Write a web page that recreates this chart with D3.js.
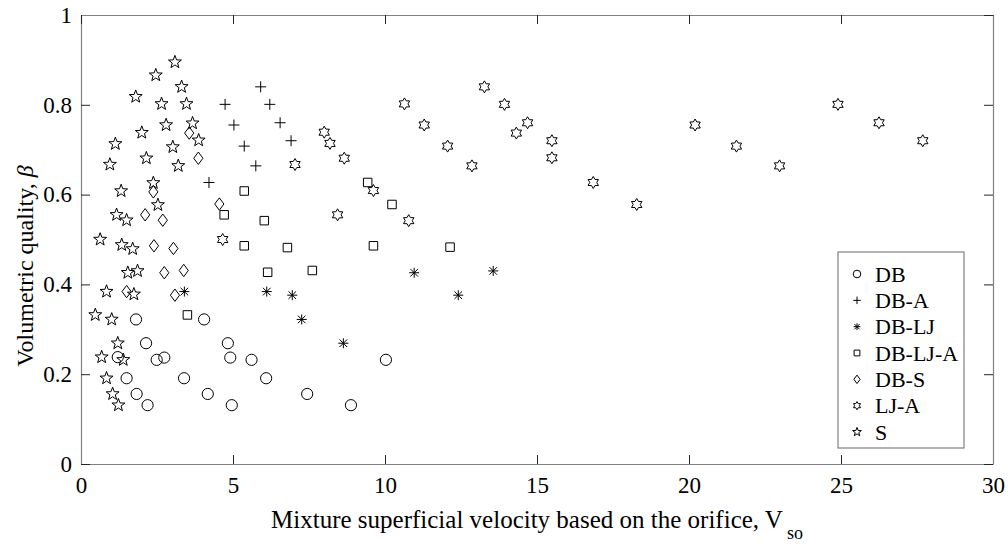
<!DOCTYPE html>
<html>
<head>
<meta charset="utf-8">
<script src="https://cdn.jsdelivr.net/npm/d3@7"></script>
</head>
<body style="margin:0">
<svg id="chart"></svg>
<script>
// values
const dbX = [1.81, 4.05, 2.14, 4.83, 1.21, 2.49, 2.74, 4.91, 5.61, 10.03, 1.50, 3.39, 6.09, 1.83, 4.17, 7.44, 2.19, 4.96, 8.88]
const dbY = [0.322, 0.322, 0.269, 0.269, 0.238, 0.232, 0.237, 0.237, 0.232, 0.232, 0.191, 0.191, 0.191, 0.156, 0.156, 0.156, 0.131, 0.131, 0.131]

const dbaX = [5.91, 4.74, 6.21, 5.03, 6.55, 5.37, 6.91, 5.75, 4.21]
const dbaY = [0.840, 0.801, 0.801, 0.755, 0.760, 0.708, 0.720, 0.664, 0.627]

const dbljX = [3.40, 6.11, 6.95, 7.26, 8.63, 10.96, 13.56, 12.41]
const dbljY = [0.384, 0.384, 0.376, 0.322, 0.269, 0.426, 0.430, 0.376]

const dbljaX = [5.37, 4.71, 6.03, 9.43, 10.23, 12.14, 5.37, 6.79, 9.62, 6.14, 7.61, 3.50]
const dbljaY = [0.608, 0.555, 0.542, 0.627, 0.578, 0.483, 0.486, 0.482, 0.486, 0.427, 0.431, 0.332]

const dbsX = [3.56, 3.86, 2.38, 4.55, 2.11, 2.69, 2.40, 3.04, 2.74, 3.38, 1.50, 3.09]
const dbsY = [0.737, 0.681, 0.606, 0.579, 0.555, 0.543, 0.486, 0.480, 0.426, 0.431, 0.384, 0.376]

const ljaX = [4.66, 7.04, 8.00, 8.19, 8.66, 8.44, 9.62, 10.64, 11.29, 12.06, 12.86, 13.27, 13.93, 14.32, 14.69, 15.49, 15.49, 16.85, 18.28, 10.78, 20.20, 21.56, 22.98, 24.90, 26.25, 27.69]
const ljaY = [0.500, 0.667, 0.739, 0.714, 0.681, 0.555, 0.609, 0.802, 0.755, 0.708, 0.664, 0.840, 0.801, 0.737, 0.760, 0.720, 0.682, 0.627, 0.578, 0.542, 0.755, 0.708, 0.664, 0.801, 0.760, 0.720]

const sX = [3.09, 2.46, 1.80, 3.31, 2.65, 3.47, 3.67, 2.80, 2.00, 3.87, 1.13, 3.02, 2.15, 3.20, 0.95, 2.38, 1.32, 2.53, 1.17, 1.50, 0.63, 1.34, 1.70, 1.54, 1.86, 0.84, 1.74, 0.47, 1.01, 1.21, 0.68, 1.39, 0.84, 1.04, 1.23]
const sY = [0.895, 0.866, 0.818, 0.840, 0.802, 0.802, 0.759, 0.755, 0.738, 0.721, 0.713, 0.706, 0.681, 0.664, 0.667, 0.626, 0.608, 0.577, 0.555, 0.543, 0.500, 0.488, 0.479, 0.426, 0.430, 0.384, 0.378, 0.332, 0.322, 0.269, 0.238, 0.232, 0.191, 0.156, 0.131]

const seriesNames = ["DB", "DB-A", "DB-LJ", "DB-LJ-A", "DB-S", "LJ-A", "S"]
const xTicks = [0, 5, 10, 15, 20, 25, 30]
const yTicks = [0, 0.2, 0.4, 0.6, 0.8, 1]

const serif = '"Liberation Serif"'

const width = 1008
const height = 544
const margin = {top: 15, right: 15, bottom: 80, left: 81}
const plotW = width - margin.left - margin.right
const plotH = height - margin.top - margin.bottom

const svg = d3.select("#chart")
  .attr("width", width)
  .attr("height", height)

const xScale = d3.scaleLinear().domain([0, 30]).range([margin.left, margin.left + plotW])
const yScale = d3.scaleLinear().domain([0, 1]).range([margin.top + plotH, margin.top])

// marker shapes, drawn as outlines like the MATLAB markers
const starPath = (n, R, r) => {
  const pts = d3.range(n * 2).map(i => {
    const a = -Math.PI / 2 + i * Math.PI / n
    const rad = i % 2 === 0 ? R : r
    return [rad * Math.cos(a), rad * Math.sin(a)]
  })
  return "M" + pts.map(p => p[0].toFixed(2) + "," + p[1].toFixed(2)).join("L") + "Z"
}

const shapes = {
  "DB": k => d3.symbol(d3.symbolCircle, Math.PI * (5.6 * k) ** 2)(),
  "DB-A": k => `M${-5.5*k},0H${5.5*k}M0,${-5.5*k}V${5.5*k}`,
  "DB-LJ": k => `M${-5*k},0H${5*k}M0,${-5*k}V${5*k}M${-3.8*k},${-3.8*k}L${3.8*k},${3.8*k}M${-3.8*k},${3.8*k}L${3.8*k},${-3.8*k}`,
  "DB-LJ-A": k => d3.symbol(d3.symbolSquare, (8.5 * k) ** 2)(),
  "DB-S": k => `M0,${-6.2*k}L${4.6*k},0L0,${6.2*k}L${-4.6*k},0Z`,
  "LJ-A": k => starPath(6, 6 * k, 3.5 * k),
  "S": k => starPath(5, 6.8 * k, 2.8 * k)
}

const series = [
  {name: "DB", xs: dbX, ys: dbY},
  {name: "DB-A", xs: dbaX, ys: dbaY},
  {name: "DB-LJ", xs: dbljX, ys: dbljY},
  {name: "DB-LJ-A", xs: dbljaX, ys: dbljaY},
  {name: "DB-S", xs: dbsX, ys: dbsY},
  {name: "LJ-A", xs: ljaX, ys: ljaY},
  {name: "S", xs: sX, ys: sY}
]

// axes (ticks point inward, mirrored on top and right)
const frameColor = "#808080"
const tickLen = 9

svg.append("g")
  .attr("transform", `translate(0,${margin.top + plotH})`)
  .call(d3.axisBottom(xScale).tickValues(xTicks).tickFormat(d3.format("d"))
    .tickSizeInner(-tickLen).tickSizeOuter(0).tickPadding(13))

svg.append("g")
  .attr("transform", `translate(${margin.left},0)`)
  .call(d3.axisLeft(yScale).tickValues(yTicks).tickFormat(d => d === 0 || d === 1 ? d3.format("d")(d) : d3.format(".1f")(d))
    .tickSizeInner(-tickLen).tickSizeOuter(0).tickPadding(9))

svg.append("g")
  .attr("transform", `translate(0,${margin.top})`)
  .call(d3.axisTop(xScale).tickValues(xTicks).tickFormat("")
    .tickSizeInner(-tickLen).tickSizeOuter(0))

svg.append("g")
  .attr("transform", `translate(${margin.left + plotW},0)`)
  .call(d3.axisRight(yScale).tickValues(yTicks).tickFormat("")
    .tickSizeInner(-tickLen).tickSizeOuter(0))

// d3 axes put font-family="sans-serif" on their groups; drop it
svg.selectAll("g").attr("font-family", null).attr("font-size", null)
svg.selectAll(".domain").attr("stroke", frameColor).attr("stroke-width", 1.2)
svg.selectAll(".tick line").attr("stroke", "#262626")
svg.selectAll(".tick text")
  .style("font-family", serif)
  .style("font-size", "23px")
  .attr("fill", "#000")

// points
series.forEach(s => {
  const pts = s.xs.map((x, i) => ({x: x, y: s.ys[i]}))
  svg.append("g")
    .selectAll("path")
    .data(pts)
    .join("path")
    .attr("transform", d => `translate(${xScale(d.x)},${yScale(d.y)})`)
    .attr("d", shapes[s.name](1))
    .attr("fill", "none")
    .attr("stroke", "#000")
    .attr("stroke-width", 1)
})

// axis labels
const xLab = svg.append("text")
  .attr("x", margin.left + plotW / 2)
  .attr("y", 528)
  .attr("text-anchor", "middle")
  .style("font-family", serif)
  .style("font-size", "25px")
  .text("Mixture superficial velocity based on the orifice, V")
xLab.append("tspan")
  .attr("dx", 4)
  .attr("dy", 11)
  .style("font-size", "18px")
  .text("so")

const yLab = svg.append("text")
  .attr("transform", `translate(33,266) rotate(-90)`)
  .attr("text-anchor", "middle")
  .style("font-family", serif)
  .style("font-size", "24px")
  .text("Volumetric quality, ")
yLab.append("tspan").style("font-style", "italic").text("β")

// legend
const legend = svg.append("g")
legend.append("rect")
  .attr("x", 838)
  .attr("y", 252)
  .attr("width", 126)
  .attr("height", 196)
  .attr("fill", "#fff")
  .attr("stroke", frameColor)
  .attr("stroke-width", 1.2)

const rowY = d3.scalePoint().domain(seriesNames).range([274, 432])

seriesNames.forEach(name => {
  legend.append("path")
    .attr("transform", `translate(857,${rowY(name)})`)
    .attr("d", shapes[name](0.68))
    .attr("fill", "none")
    .attr("stroke", "#000")
    .attr("stroke-width", 1)
  legend.append("text")
    .attr("x", 875)
    .attr("y", rowY(name))
    .attr("dy", "0.35em")
    .style("font-family", serif)
    .style("font-size", "22px")
    .text(name)
})
</script>
</body>
</html>
